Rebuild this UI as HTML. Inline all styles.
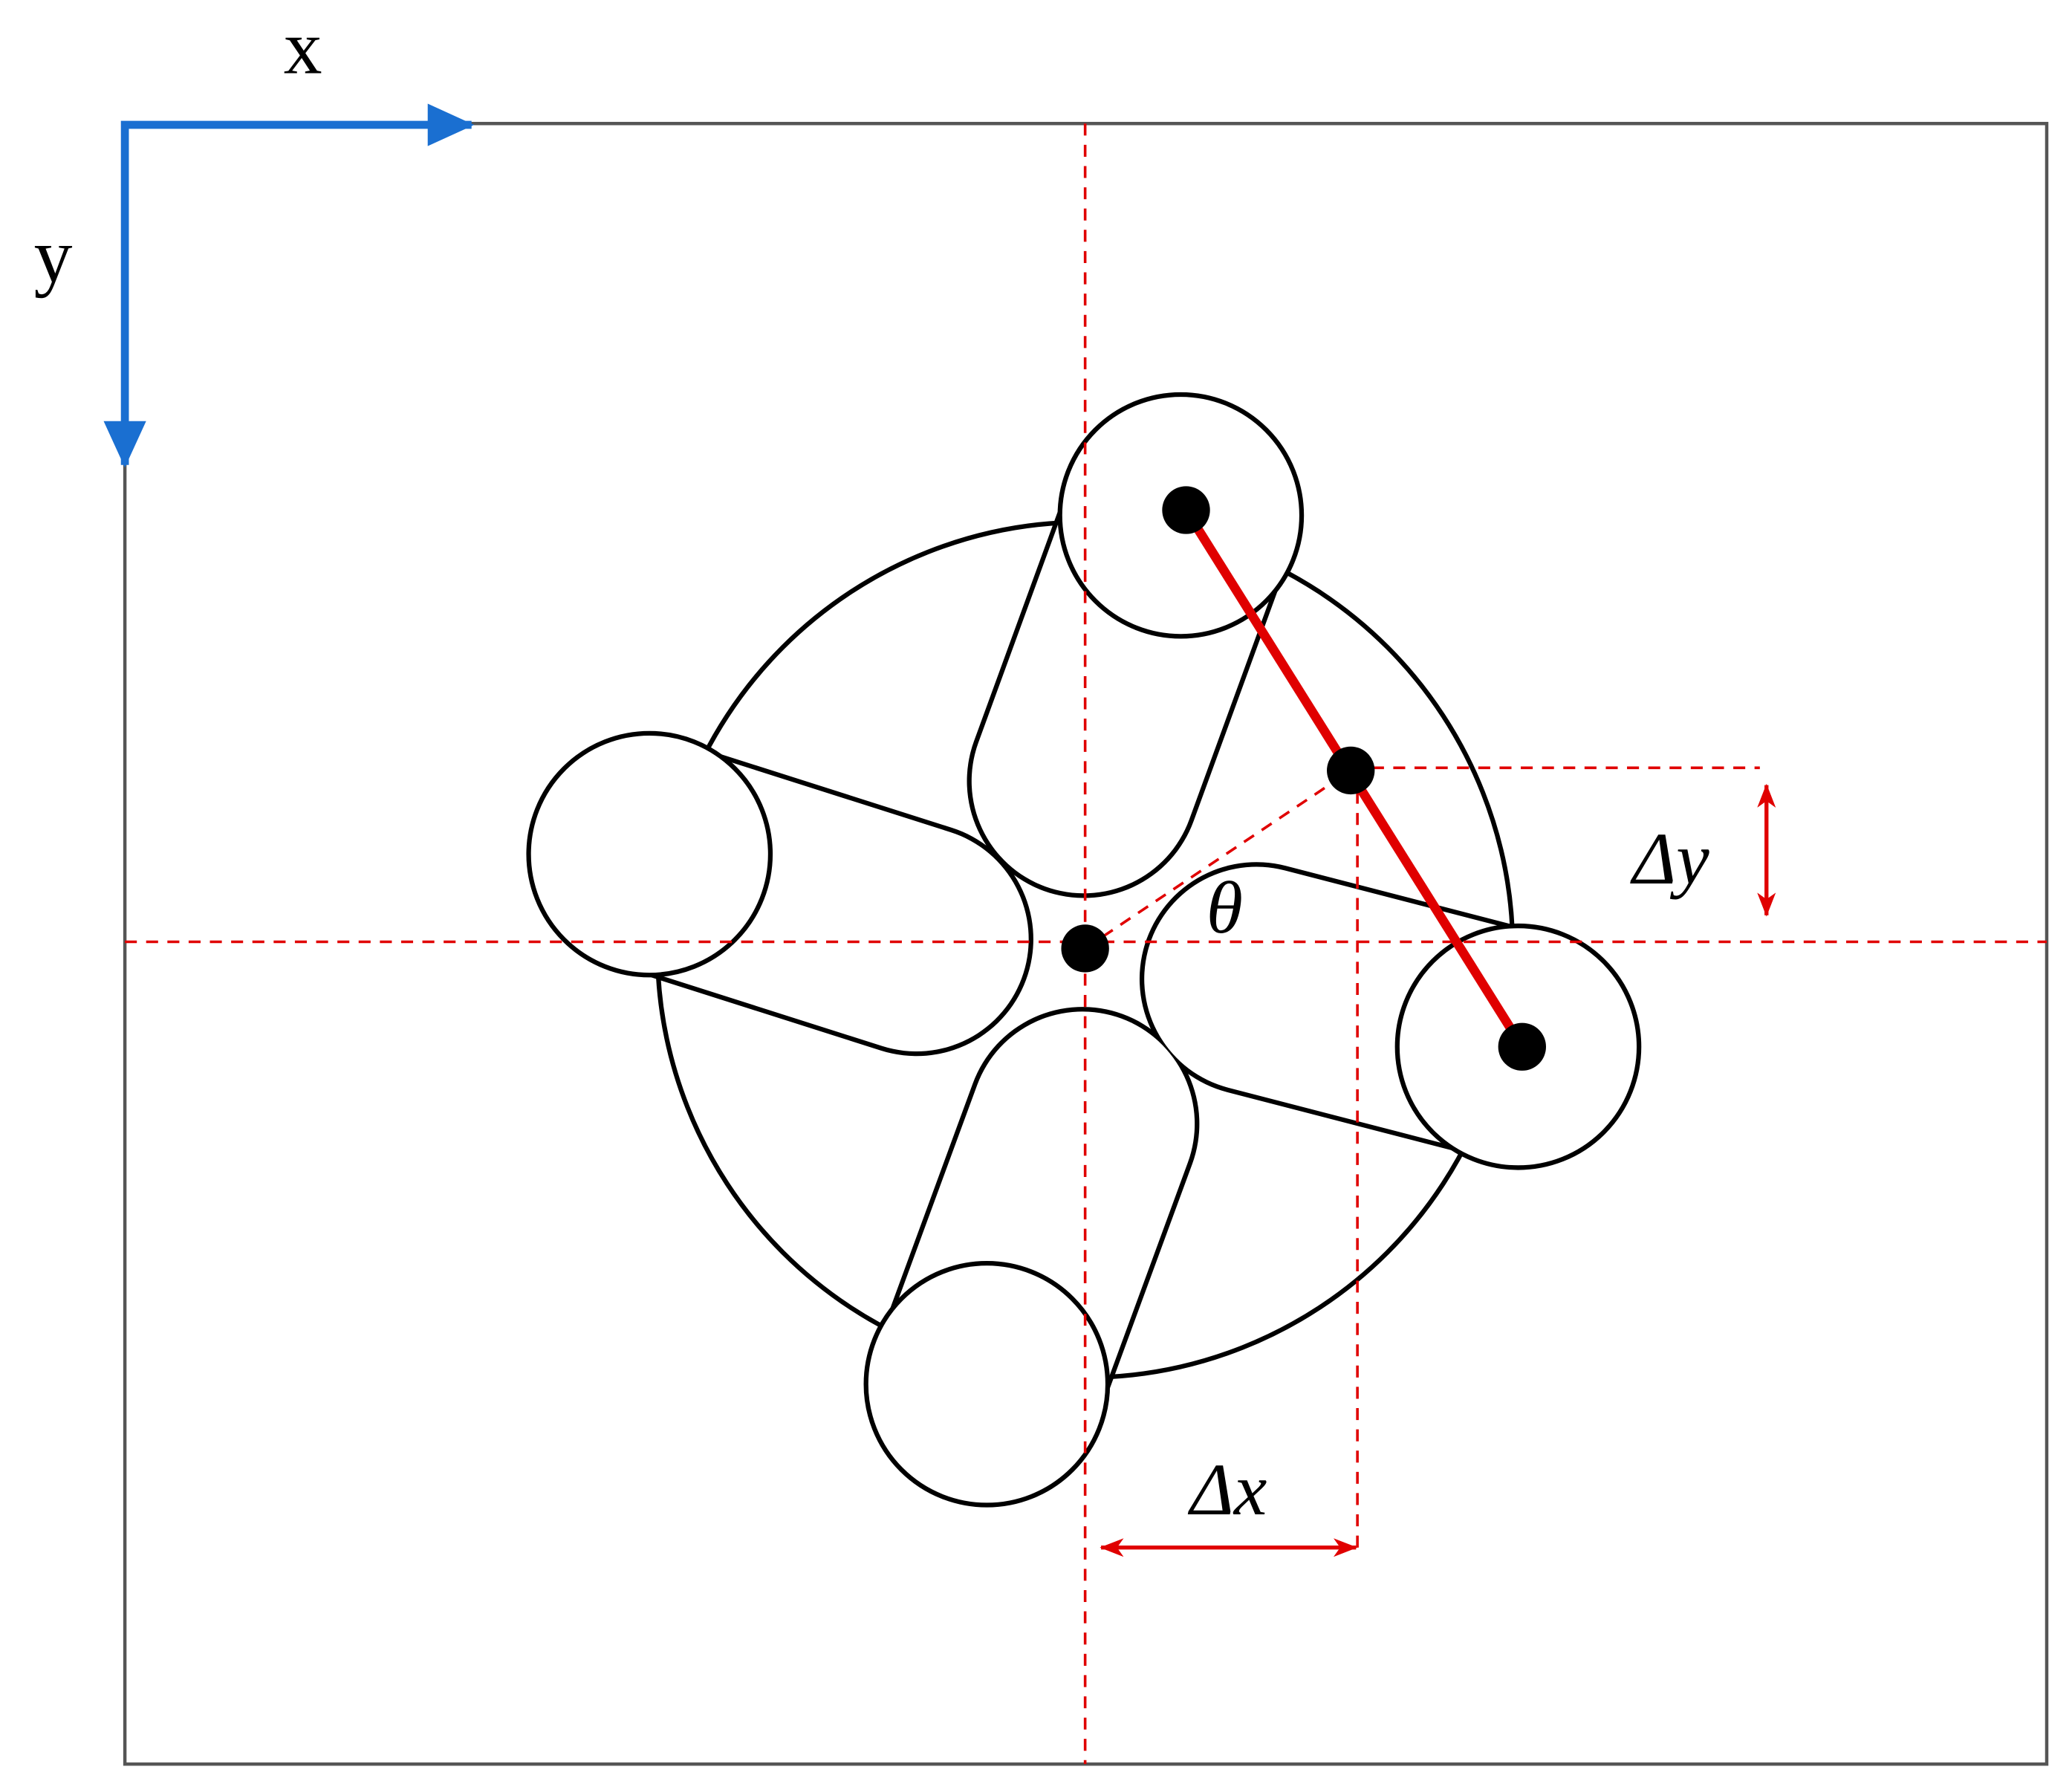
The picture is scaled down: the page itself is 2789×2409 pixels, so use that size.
<!DOCTYPE html>
<html><head><style>html,body{margin:0;padding:0;background:#fff}svg{display:block}</style></head>
<body>
<svg width="2789" height="2409" viewBox="0 0 1560 1347.5" xmlns="http://www.w3.org/2000/svg">
<defs>
<marker id="ra" markerWidth="18" markerHeight="14" refX="17" refY="7" orient="auto-start-reverse" markerUnits="userSpaceOnUse" viewBox="0 0 18 14"><path d="M0,0 L18,7 L0,14 L5,7 z" fill="#e00000"/></marker>
</defs>
<rect width="1560" height="1347.5" fill="#fff"/>
<rect x="94" y="93" width="1447" height="1235" fill="none" stroke="#555" stroke-width="2.5"/>
<circle cx="817" cy="715" r="322" fill="#fff" stroke="#000" stroke-width="3.5"/>
<g stroke-linecap="round" fill="none">
<line x1="816" y1="588" x2="889" y2="388" stroke="#000" stroke-width="176"/>
<line x1="946" y1="737" x2="1143" y2="788" stroke="#000" stroke-width="176"/>
<line x1="815" y1="846" x2="743" y2="1042" stroke="#000" stroke-width="176"/>
<line x1="690" y1="707" x2="489" y2="643" stroke="#000" stroke-width="176"/>
<line x1="816" y1="588" x2="889" y2="388" stroke="#fff" stroke-width="169"/>
<line x1="946" y1="737" x2="1143" y2="788" stroke="#fff" stroke-width="169"/>
<line x1="815" y1="846" x2="743" y2="1042" stroke="#fff" stroke-width="169"/>
<line x1="690" y1="707" x2="489" y2="643" stroke="#fff" stroke-width="169"/>
</g>
<g fill="#fff" stroke="#000" stroke-width="3.5">
<circle cx="889" cy="388" r="91"/>
<circle cx="1143" cy="788" r="91"/>
<circle cx="743" cy="1042" r="91"/>
<circle cx="489" cy="643" r="91"/>
</g>
<g stroke="#e00000" stroke-width="2" stroke-dasharray="9,7" fill="none">
<line x1="817" y1="93" x2="817" y2="1328"/>
<line x1="94" y1="709" x2="1541" y2="709"/>
<line x1="817" y1="714" x2="1017" y2="580"/>
<line x1="1017" y1="578" x2="1325" y2="578"/>
<line x1="1022" y1="580" x2="1022" y2="1165"/>
</g>
<line x1="893" y1="384" x2="1146" y2="788" stroke="#e00000" stroke-width="7"/>
<g fill="#000">
<circle cx="893" cy="384" r="18"/>
<circle cx="1017" cy="580" r="18"/>
<circle cx="1146" cy="788" r="18"/>
<circle cx="817" cy="714" r="18"/>
</g>
<line x1="1330" y1="591" x2="1330" y2="689" stroke="#e00000" stroke-width="3" marker-start="url(#ra)" marker-end="url(#ra)"/>
<line x1="829" y1="1165" x2="1021" y2="1165" stroke="#e00000" stroke-width="3" marker-start="url(#ra)" marker-end="url(#ra)"/>
<polyline points="355,94 94,94 94,350" fill="none" stroke="#1a6fd1" stroke-width="6"/>
<path d="M322,78 L357,94 L322,110 z" fill="#1a6fd1"/>
<path d="M78,317 L94,352 L110,317 z" fill="#1a6fd1"/>
<g font-family="Liberation Serif, serif" fill="#000">
<text x="228" y="55" font-size="58" text-anchor="middle">x</text>
<text x="40" y="212" font-size="58" text-anchor="middle">y</text>
<g font-style="italic" font-size="56">
<text x="922" y="702" text-anchor="middle">θ</text>
<text x="1258" y="665" text-anchor="middle">Δy</text>
<text x="925" y="1140" text-anchor="middle">Δx</text>
</g>
</g>
</svg>
</body></html>
